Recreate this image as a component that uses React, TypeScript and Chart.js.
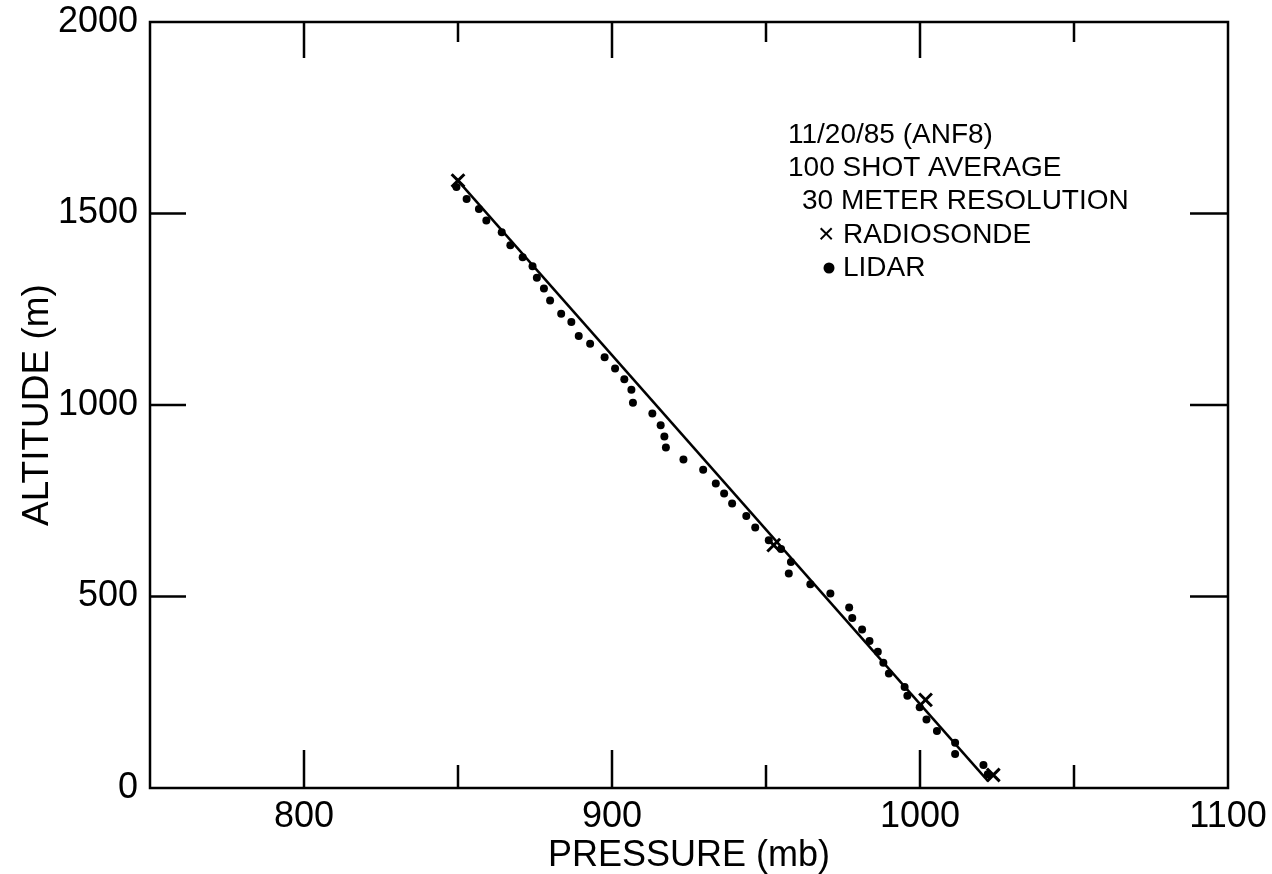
import React, { useEffect, useRef } from 'react';
import { Chart, registerables } from 'chart.js';

Chart.register(...registerables);

// ---------- data ----------
const xTickLabels = [800, 900, 1000, 1100];
const yTickLabels = [0, 500, 1000, 1500, 2000];
const xMajorTickMarks = [800, 900, 1000];
const xMinorTickMarks = [850, 950, 1050];
const yTickMarks = [500, 1000, 1500];

const fitLinePressure = [849.4, 1022.1];
const fitLineAltitude = [1591, 18];

const radiosondePressure = [850.0, 952.5, 1001.8, 1023.8];
const radiosondeAltitude = [1586, 634, 230, 34];

const lidarPressure = [
  849.5, 852.8, 856.8, 859.2, 864.2, 867.0, 871.0, 874.2, 875.6, 877.9,
  879.9, 883.5, 886.8, 889.2, 892.9, 897.6, 901.0, 904.0, 906.3, 906.8,
  913.1, 915.8, 917.0, 917.5, 923.2, 929.6, 933.7, 936.4, 939.0, 943.6,
  946.5, 950.9, 954.9, 958.1, 957.4, 964.4, 970.9, 977.0, 978.0, 981.2,
  983.6, 986.3, 988.1, 989.9, 995.0, 995.9, 999.9, 1002.1, 1005.5, 1011.4,
  1011.4, 1020.6, 1022.0,
];
const lidarAltitude = [
  1569, 1538, 1512, 1482, 1451, 1417, 1386, 1362, 1332, 1304,
  1273, 1238, 1217, 1180, 1160, 1125, 1095, 1067, 1040, 1006,
  978, 947, 918, 889, 858, 831, 795, 769, 743, 710,
  680, 647, 624, 590, 560, 532, 508, 471, 444, 414,
  384, 356, 327, 299, 264, 241, 211, 179, 149, 118,
  89, 60, 36,
];

const annotationLines = ['11/20/85 (ANF8)', '100 SHOT AVERAGE', '30 METER RESOLUTION'];
const radiosondeLabel = 'RADIOSONDE';
const lidarLabel = 'LIDAR';
const xTitle = 'PRESSURE (mb)';
const yTitle = 'ALTITUDE (m)';

const FONT = '"Liberation Sans", Arial, Helvetica, sans-serif';

const framePlugin = {
  id: 'frameAndNotes',
  afterDatasetsDraw(chart: any) {
    const { ctx, chartArea: a, scales } = chart;
    const x = scales.x;
    const y = scales.y;
    ctx.save();
    ctx.strokeStyle = '#000';
    ctx.lineWidth = 2.5;
    ctx.strokeRect(a.left, a.top, a.right - a.left, a.bottom - a.top);
    ctx.beginPath();
    xMajorTickMarks.forEach((v) => {
      const px = x.getPixelForValue(v);
      ctx.moveTo(px, a.bottom);
      ctx.lineTo(px, a.bottom - 38);
      ctx.moveTo(px, a.top);
      ctx.lineTo(px, a.top + 36);
    });
    xMinorTickMarks.forEach((v) => {
      const px = x.getPixelForValue(v);
      ctx.moveTo(px, a.bottom);
      ctx.lineTo(px, a.bottom - 23);
      ctx.moveTo(px, a.top);
      ctx.lineTo(px, a.top + 20);
    });
    yTickMarks.forEach((v) => {
      const py = y.getPixelForValue(v);
      ctx.moveTo(a.left, py);
      ctx.lineTo(a.left + 36, py);
      ctx.moveTo(a.right, py);
      ctx.lineTo(a.right - 38, py);
    });
    ctx.stroke();

    // annotation block
    ctx.fillStyle = '#000';
    ctx.font = `28px ${FONT}`;
    ctx.textBaseline = 'middle';
    ctx.textAlign = 'left';
    ctx.fillText(annotationLines[0], 788, 135);
    ctx.fillText(annotationLines[1], 788, 168);
    ctx.fillText(annotationLines[2], 802, 201);
    ctx.font = `28px ${FONT}`;
    ctx.fillText('\u00d7', 818, 235);
    ctx.fillText(radiosondeLabel, 843, 235);
    ctx.beginPath();
    ctx.arc(829, 268, 5.5, 0, Math.PI * 2);
    ctx.fill();
    ctx.fillText(lidarLabel, 843, 268);
    ctx.restore();
  },
};

const zeroOverflow = (s: any) => {
  s.paddingTop = 0;
  s.paddingBottom = 0;
  s.paddingLeft = 0;
  s.paddingRight = 0;
};

export default function App() {
  const canvasRef = useRef<HTMLCanvasElement | null>(null);

  useEffect(() => {
    if (!canvasRef.current) return;
    const chart = new Chart(canvasRef.current, {
      type: 'scatter',
      data: {
        datasets: [
          {
            label: 'fit',
            data: fitLinePressure.map((p, i) => ({ x: p, y: fitLineAltitude[i] })),
            showLine: true,
            borderColor: '#000',
            borderWidth: 2.5,
            pointRadius: 0,
            fill: false,
          },
          {
            label: radiosondeLabel,
            data: radiosondePressure.map((p, i) => ({ x: p, y: radiosondeAltitude[i] })),
            pointStyle: 'crossRot',
            pointRadius: 9,
            borderColor: '#000',
            borderWidth: 3,
            showLine: false,
          },
          {
            label: lidarLabel,
            data: lidarPressure.map((p, i) => ({ x: p, y: lidarAltitude[i] })),
            pointStyle: 'circle',
            pointRadius: 4,
            backgroundColor: '#000',
            borderColor: '#000',
            borderWidth: 0,
            showLine: false,
          },
        ],
      },
      options: {
        animation: false,
        responsive: false,
        devicePixelRatio: 1,
        layout: { padding: { top: 22, right: 44, left: 0, bottom: 0 } },
        plugins: { legend: { display: false }, tooltip: { enabled: false } },
        scales: {
          x: {
            type: 'linear',
            min: 750,
            max: 1100,
            afterBuildTicks: (s: any) => {
              s.ticks = xTickLabels.map((v) => ({ value: v }));
            },
            afterFit: (s: any) => {
              s.height = 86;
              zeroOverflow(s);
            },
            grid: { display: false, drawTicks: false },
            border: { display: false },
            ticks: {
              padding: 7,
              maxRotation: 0,
              autoSkip: false,
              color: '#000',
              font: { size: 36, family: FONT },
              callback: (v: any) => String(v),
            },
            title: {
              display: true,
              text: xTitle,
              color: '#000',
              font: { size: 36, family: FONT, lineHeight: 1 },
              padding: { top: 0, bottom: 0 },
            },
          },
          y: {
            type: 'linear',
            min: 0,
            max: 2000,
            afterBuildTicks: (s: any) => {
              s.ticks = yTickLabels.map((v) => ({ value: v }));
            },
            afterFit: (s: any) => {
              s.width = 150;
              zeroOverflow(s);
            },
            grid: { display: false, drawTicks: false },
            border: { display: false },
            ticks: {
              padding: 12,
              autoSkip: false,
              color: '#000',
              font: { size: 36, family: FONT },
              callback: (v: any) => String(v),
            },
            title: {
              display: true,
              text: yTitle,
              color: '#000',
              font: { size: 37, family: FONT, lineHeight: 1 },
              padding: { top: 19, bottom: 0 },
            },
          },
        },
      },
      plugins: [framePlugin],
    });
    return () => chart.destroy();
  }, []);

  return (
    <div style={{ position: 'fixed', left: 0, top: 0, width: 1272, height: 874, background: '#fff' }}>
      <canvas ref={canvasRef} width={1272} height={874} style={{ width: 1272, height: 874 }} />
    </div>
  );
}
